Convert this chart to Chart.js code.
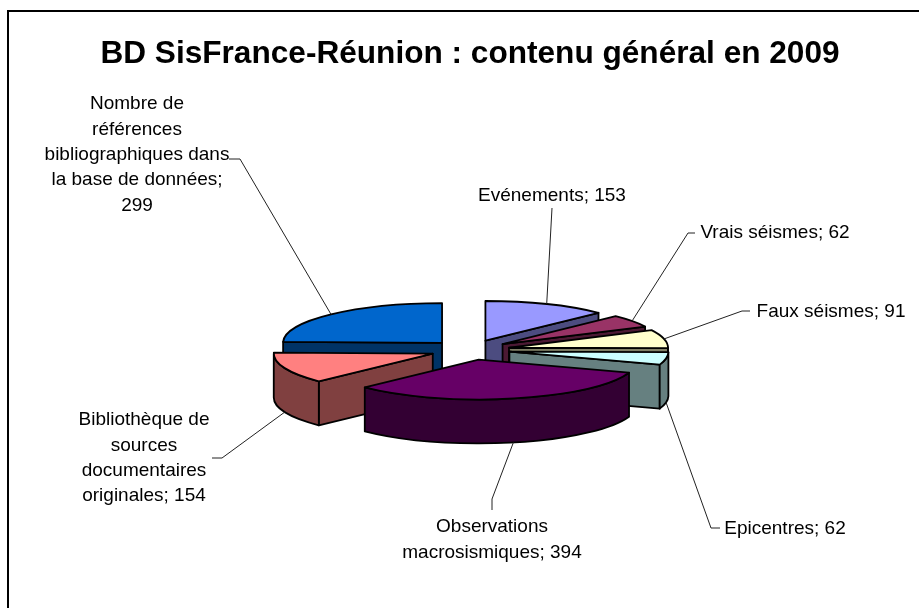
<!DOCTYPE html>
<html>
<head>
<meta charset="utf-8">
<title>BD SisFrance-Réunion</title>
<script src="https://cdn.jsdelivr.net/npm/chart.js@4"></script>
<style>
    body { margin: 0; background: #fff; }
    canvas { display: block; }
</style>
</head>
<body>
<canvas id="chart" width="919" height="608"></canvas>
<script>
// Data
const chartTitle = 'BD SisFrance-Réunion : contenu général en 2009';
const categories = [
    'Evénements',
    'Vrais séismes',
    'Faux séismes',
    'Epicentres',
    'Observations\nmacrosismiques',
    'Bibliothèque de\nsources\ndocumentaires\noriginales',
    'Nombre de\nréférences\nbibliographiques dans\nla base de données'
];
const values = [153, 62, 91, 62, 394, 154, 299];

// Excel palette: top faces and their half-tone sides
const topColors = ['#9999FF', '#993366', '#FFFFCC', '#CCFFFF', '#660066', '#FF8080', '#0066CC'];
const sideColors = ['#4C4C80', '#4C1933', '#808066', '#668080', '#330033', '#804040', '#003366'];

// Label layout: text centre, first line y, and where the leader line bends
const labelCenters = [[552, 196], [775, 233], [831, 312], [785, 529], [492, 527], [144, 420], [137, 104]];
const labelElbows = [
    [[552, 208]],
    [[688, 233], [695, 233]],
    [[742, 311], [750, 311]],
    [[711, 528], [720, 528]],
    [[492, 499], [492, 510]],
    [[222, 458], [212, 458]],
    [[240, 159], [229, 159]]
];
// Nombre puts its value on a line of its own
const labelSeparators = ['; ', '; ', '; ', '; ', '; ', '; ', ';\n'];

const squash = 0.25;    // tilt of the pie
const depth = 44;       // height of the slices in pixels
const explode = 40;     // how far every slice is pulled out, before the tilt
const labelFont = '19px "Liberation Sans", Arial, sans-serif';
const lineHeight = 25.4;

function sliceGeometry(arc) {
    const mid = (arc.startAngle + arc.endAngle) / 2;
    return {
        mid,
        r: arc.outerRadius,
        ax: arc.x + Math.cos(mid) * explode,
        ay: arc.y + Math.sin(mid) * explode * squash
    };
}

function drawSlice3d(ctx, arc, index) {
    const { ax, ay, r, mid } = sliceGeometry(arc);
    const px = a => ax + Math.cos(a) * r;
    const py = a => ay + Math.sin(a) * r * squash;
    const a0 = arc.startAngle;
    const a1 = arc.endAngle;

    ctx.save();
    ctx.lineWidth = 1.8;
    ctx.strokeStyle = '#000';
    ctx.lineJoin = 'round';
    ctx.fillStyle = sideColors[index];

    // radial cut faces, only those turned towards the viewer
    [[a0, -Math.cos(a0)], [a1, Math.cos(a1)]].forEach(([a, facing]) => {
        if (facing <= 0.001) return;
        ctx.beginPath();
        ctx.moveTo(ax, ay);
        ctx.lineTo(px(a), py(a));
        ctx.lineTo(px(a), py(a) + depth);
        ctx.lineTo(ax, ay + depth);
        ctx.closePath();
        ctx.fill();
        ctx.stroke();
    });

    // outer wall, the part in the lower half of the ellipse
    const from = Math.max(a0, 0);
    const to = Math.min(a1, Math.PI);
    if (to > from) {
        ctx.beginPath();
        ctx.ellipse(ax, ay, r, r * squash, 0, from, to);
        ctx.ellipse(ax, ay + depth, r, r * squash, 0, to, from, true);
        ctx.closePath();
        ctx.fill();
        ctx.stroke();
    }

    // top face comes from the library element, squashed and pulled out
    ctx.save();
    ctx.translate(0, arc.y);
    ctx.scale(1, squash);
    ctx.translate(0, -arc.y);
    ctx.translate(Math.cos(mid) * explode, Math.sin(mid) * explode);
    arc.draw(ctx);
    ctx.restore();

    ctx.beginPath();
    ctx.moveTo(ax, ay);
    ctx.ellipse(ax, ay, r, r * squash, 0, a0, a1);
    ctx.closePath();
    ctx.stroke();
    ctx.restore();
}

function drawLabel(ctx, arc, index) {
    const { ax, ay, r, mid } = sliceGeometry(arc);

    // leader starts on the outer edge of the slice at its middle angle
    const sx = ax + Math.cos(mid) * r;
    let sy = ay + Math.sin(mid) * r * squash;
    if (Math.sin(mid) > 0) sy += depth;

    ctx.save();
    ctx.strokeStyle = '#222';
    ctx.lineWidth = 1;
    ctx.beginPath();
    ctx.moveTo(sx, sy);
    labelElbows[index].forEach(p => ctx.lineTo(p[0], p[1]));
    ctx.stroke();

    const lines = (categories[index] + labelSeparators[index] + values[index]).split('\n');
    ctx.font = labelFont;
    ctx.fillStyle = '#000';
    ctx.textAlign = 'center';
    ctx.textBaseline = 'middle';
    lines.forEach((line, i) => {
        ctx.fillText(line, labelCenters[index][0], labelCenters[index][1] + i * lineHeight);
    });
    ctx.restore();
}

const pie3d = {
    id: 'pie3d',
    beforeDraw(chart) {
        const ctx = chart.ctx;
        ctx.save();
        ctx.fillStyle = '#fff';
        ctx.fillRect(0, 0, chart.width, chart.height);
        // the frame of the original is cut off on the right and at the bottom
        ctx.strokeStyle = '#000';
        ctx.lineWidth = 2;
        ctx.beginPath();
        ctx.moveTo(8, chart.height);
        ctx.lineTo(8, 11);
        ctx.lineTo(chart.width, 11);
        ctx.stroke();
        ctx.restore();
    },
    beforeDatasetsDraw(chart) {
        const ctx = chart.ctx;
        const arcs = chart.getDatasetMeta(0).data;
        // paint from the back of the picture to the front
        const apexY = arc => Math.sin((arc.startAngle + arc.endAngle) / 2);
        const order = arcs.map((arc, i) => i).sort((a, b) => apexY(arcs[a]) - apexY(arcs[b]));
        order.forEach(i => drawSlice3d(ctx, arcs[i], i));
        arcs.forEach((arc, i) => drawLabel(ctx, arc, i));
        return false;
    }
};

new Chart(document.getElementById('chart').getContext('2d'), {
    type: 'pie',
    data: {
        labels: categories,
        datasets: [{
            data: values,
            backgroundColor: topColors,
            borderWidth: 0,
            radius: 159
        }]
    },
    options: {
        responsive: false,
        animation: false,
        layout: { padding: { left: 21 } },
        events: [],
        plugins: {
            legend: { display: false },
            tooltip: { enabled: false },
            title: {
                display: true,
                text: chartTitle,
                color: '#000',
                font: { family: '"Liberation Sans", Arial, sans-serif', size: 31.6, weight: 'bold', lineHeight: 1.2 },
                padding: { top: 35, bottom: 19 }
            }
        }
    },
    plugins: [pie3d]
});
</script>
</body>
</html>
